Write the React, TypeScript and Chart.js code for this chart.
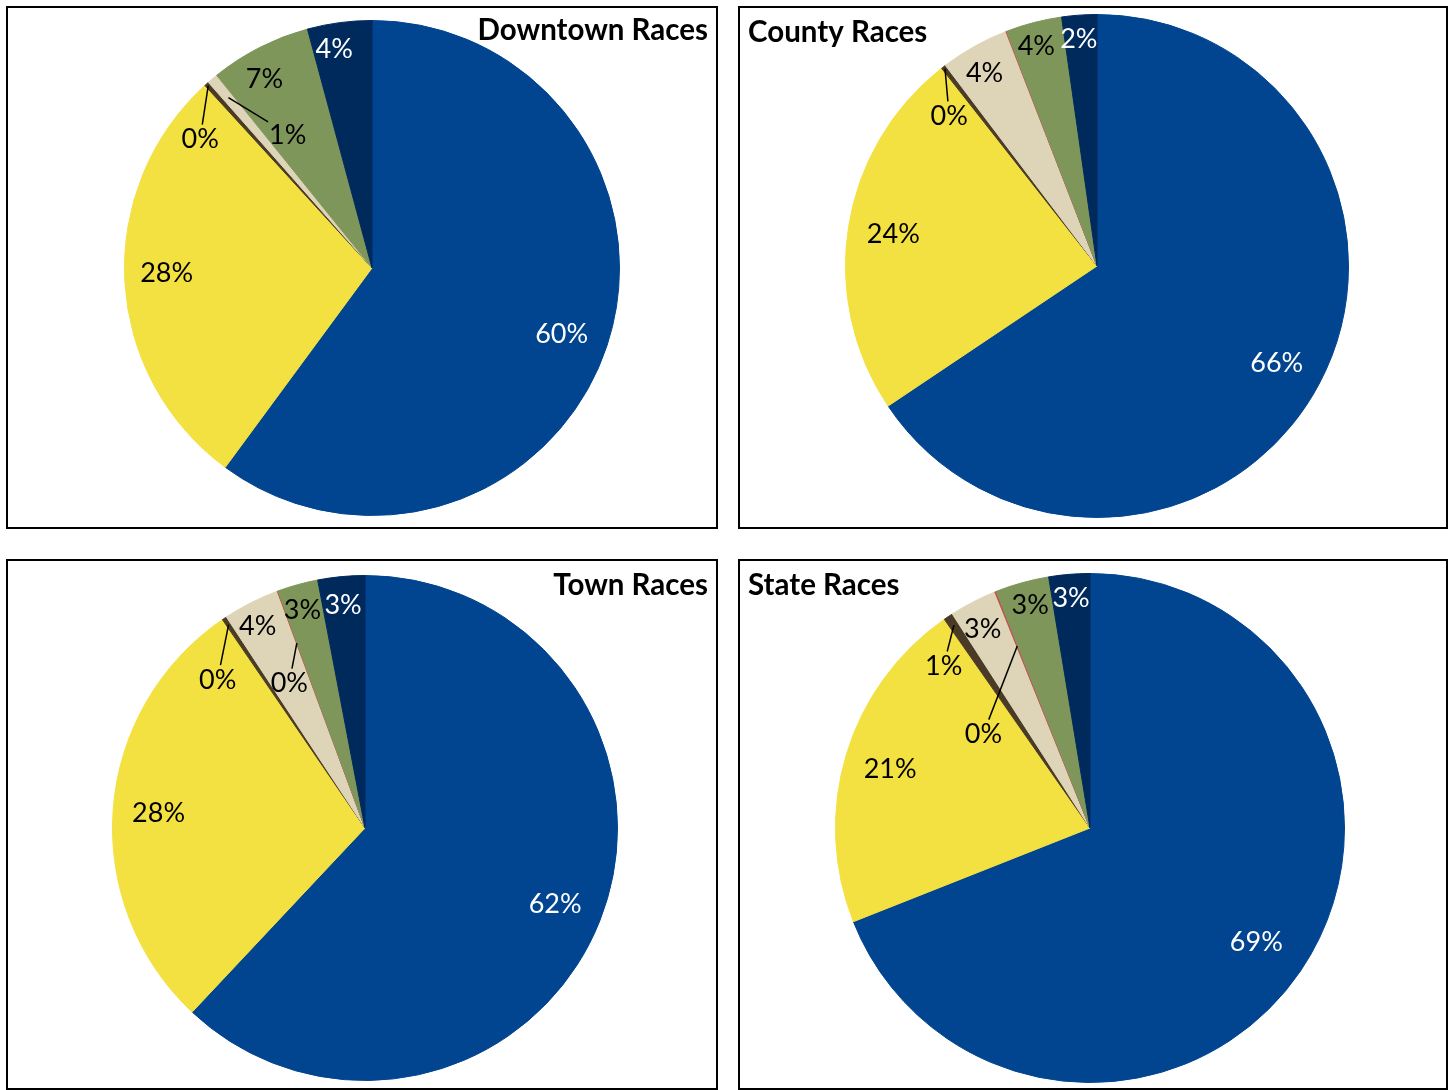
import React, { useEffect, useRef } from 'react';
import { Chart, registerables } from 'chart.js';

Chart.register(...registerables);

// ---- data ----
const categories = ['Group A', 'Group B', 'Group C', 'Group D', 'Group E', 'Group F', 'Group G'];
const sliceColors = ['#01448F', '#F3E041', '#4A3B27', '#DED5B8', '#C0504D', '#7F965B', '#00295C'];
const labelColors = ['#FFFFFF', '#000000', '#000000', '#000000', '#000000', '#000000', '#FFFFFF'];

const downtownValues = [60.1, 28.1, 0.3, 0.7, 0, 6.6, 4.2];
const countyValues = [65.6, 23.8, 0.3, 4.4, 0.05, 3.6, 2.25];
const townValues = [62.0, 28.45, 0.3, 3.6, 0.05, 2.6, 3.0];
const stateValues = [69.0, 21.3, 0.6, 3.0, 0.1, 3.4, 2.6];

const chartTitles = ['Downtown Races', 'County Races', 'Town Races', 'State Races'];

// ---- label layout hints: [radius fraction, angle offset (deg), leader anchor radius fraction] ----
type Placement = [number, number, number?] | null;
const downtownLabels: Placement[] = [[0.81, 0.7], [0.83, 2], [0.87, -11, 0.99], [0.64, 8, 0.9], null, [0.88, -2.6], [0.9, -2.2]];
const countyLabels: Placement[] = [[0.81, 0], [0.82, 0], [0.84, -6.8, 0.99], [0.89, -1], null, [0.91, -0.8], [0.91, -0.5]];
const townLabels: Placement[] = [[0.81, 0], [0.82, 0], [0.83, -10.8, 0.97], [0.91, -1], [0.65, -7.2, 0.78], [0.9, -0.5], [0.89, -0.2]];
const stateLabels: Placement[] = [[0.79, 0], [0.82, 0], [0.86, -8.1, 0.96], [0.89, -0.9], [0.56, -26.6, 0.77], [0.91, 0.5], [0.91, 0]];

const LABEL_FONT_SIZE = 27;

const labelPlugin = {
  id: 'sliceLabels',
  afterDatasetsDraw(chart: any, _args: any, opts: any) {
    const { placements, values, title, titleAlign, titleBaseline } = opts;
    const ctx: CanvasRenderingContext2D = chart.ctx;
    const meta = chart.getDatasetMeta(0);
    const total = values.reduce((a: number, b: number) => a + b, 0);
    ctx.save();
    ctx.font = `${LABEL_FONT_SIZE}px Lato`;
    ctx.textAlign = 'center';
    ctx.textBaseline = 'alphabetic';
    meta.data.forEach((arc: any, i: number) => {
      const p = placements[i];
      if (!p) return;
      const { x, y, startAngle, endAngle, outerRadius } = arc.getProps(
        ['x', 'y', 'startAngle', 'endAngle', 'outerRadius'],
        true
      );
      const mid = (startAngle + endAngle) / 2;
      const a = mid + (p[1] * Math.PI) / 180;
      const lx = x + Math.cos(a) * outerRadius * p[0];
      const ly = y + Math.sin(a) * outerRadius * p[0];
      const text = Math.round((values[i] / total) * 100) + '%';
      const w = ctx.measureText(text).width;
      if (p[2]) {
        const ax = x + Math.cos(mid) * outerRadius * p[2];
        const ay = y + Math.sin(mid) * outerRadius * p[2];
        const dx = ax - lx;
        const dy = ay - ly;
        const hw = w / 2 + 1;
        const hh = LABEL_FONT_SIZE * 0.36 + 4;
        const t = Math.min(Math.abs(dx) > 0 ? hw / Math.abs(dx) : 1e9, Math.abs(dy) > 0 ? hh / Math.abs(dy) : 1e9);
        ctx.beginPath();
        ctx.moveTo(ax, ay);
        ctx.lineTo(lx + dx * t, ly + dy * t);
        ctx.strokeStyle = '#000000';
        ctx.lineWidth = 1.5;
        ctx.stroke();
      }
      ctx.fillStyle = labelColors[i];
      ctx.fillText(text, lx, ly + LABEL_FONT_SIZE * 0.36);
    });
    ctx.font = 'bold 29.5px Lato';
    ctx.textAlign = titleAlign;
    ctx.fillStyle = '#000000';
    ctx.fillText(title, titleAlign === 'right' ? chart.width - 8 : 8, titleBaseline);
    ctx.restore();
  },
};

type BoxProps = {
  values: number[];
  placements: Placement[];
  title: string;
  titleAlign: 'left' | 'right';
  titleBaseline: number;
  padding: { top: number; bottom: number; left: number; right: number };
  left: number;
  top: number;
  w: number;
  h: number;
};

function PieBox(props: BoxProps) {
  const ref = useRef<HTMLCanvasElement>(null);
  useEffect(() => {
    const chart = new Chart(ref.current!, {
      type: 'pie',
      data: {
        labels: categories,
        datasets: [
          {
            data: props.values,
            backgroundColor: sliceColors,
            borderColor: sliceColors,
            borderWidth: 1,
          },
        ],
      },
      options: {
        animation: false,
        responsive: false,
        maintainAspectRatio: false,
        devicePixelRatio: 1,
        events: [],
        layout: { padding: props.padding },
        plugins: {
          legend: { display: false },
          tooltip: { enabled: false },
          title: { display: false },
          sliceLabels: {
            placements: props.placements,
            values: props.values,
            title: props.title,
            titleAlign: props.titleAlign,
            titleBaseline: props.titleBaseline,
          },
        } as any,
      },
      plugins: [labelPlugin],
    });
    return () => chart.destroy();
  }, []);
  return (
    <div
      style={{
        position: 'absolute',
        left: props.left,
        top: props.top,
        width: props.w,
        height: props.h,
        border: '2px solid #000',
        boxSizing: 'border-box',
        background: '#fff',
      }}
    >
      <canvas ref={ref} width={props.w - 4} height={props.h - 4} style={{ display: 'block' }} />
    </div>
  );
}

export default function App() {
  return (
    <div style={{ position: 'absolute', left: 0, top: 0, width: 1453, height: 1090, background: '#fff' }}>
      <PieBox
        values={downtownValues}
        placements={downtownLabels}
        title={chartTitles[0]}
        titleAlign="right"
        titleBaseline={32}
        padding={{ top: 12, bottom: 11, left: 20, right: 0 }}
        left={6}
        top={6}
        w={712}
        h={523}
      />
      <PieBox
        values={countyValues}
        placements={countyLabels}
        title={chartTitles[1]}
        titleAlign="left"
        titleBaseline={33.5}
        padding={{ top: 6, bottom: 9, left: 8, right: 0 }}
        left={738}
        top={6}
        w={710}
        h={523}
      />
      <PieBox
        values={townValues}
        placements={townLabels}
        title={chartTitles[2]}
        titleAlign="right"
        titleBaseline={34}
        padding={{ top: 14, bottom: 7, left: 6, right: 0 }}
        left={6}
        top={559}
        w={712}
        h={531}
      />
      <PieBox
        values={stateValues}
        placements={stateLabels}
        title={chartTitles[3]}
        titleAlign="left"
        titleBaseline={34}
        padding={{ top: 12, bottom: 5, left: 0, right: 6 }}
        left={738}
        top={559}
        w={710}
        h={531}
      />
    </div>
  );
}
